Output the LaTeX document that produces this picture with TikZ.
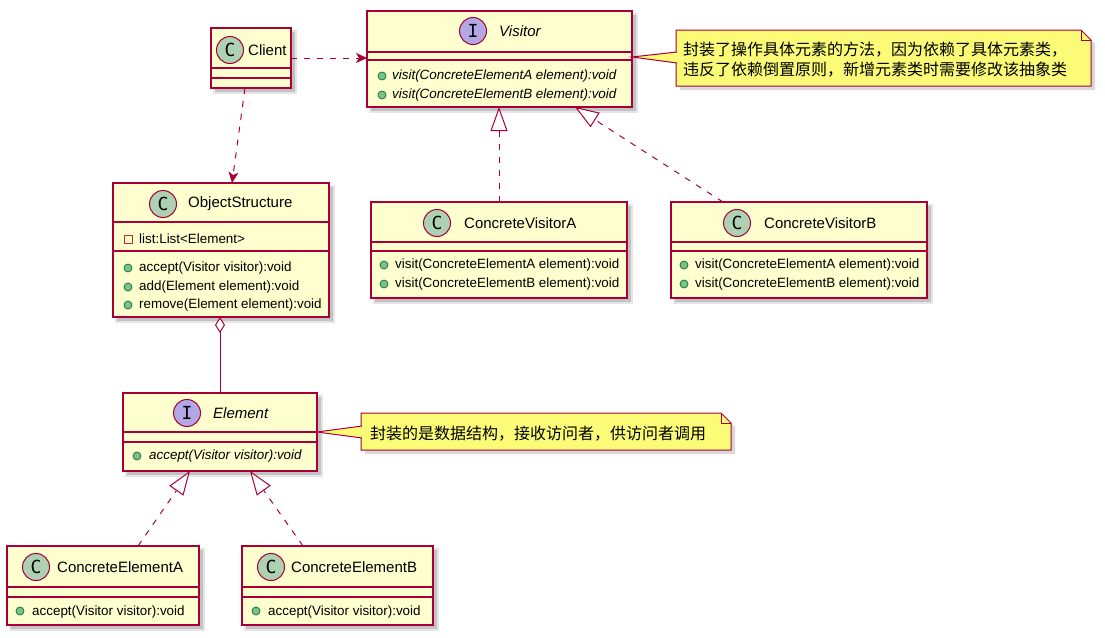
\documentclass[tikz,border=0pt]{standalone}
\usepackage{fontspec}
\setmainfont{Liberation Sans}
\newfontfamily\cjk{Noto Sans CJK SC}
\newfontfamily\glyphfont{DejaVu Sans Mono}
\usetikzlibrary{arrows.meta}
\definecolor{umlred}{HTML}{A80036}
\definecolor{umlbg}{HTML}{FEFECE}
\definecolor{notebg}{HTML}{FBFB77}
\definecolor{circC}{HTML}{ADD1B2}
\definecolor{circI}{HTML}{B4A7E5}
\definecolor{dotfill}{HTML}{84BE84}
\definecolor{dotdraw}{HTML}{038048}
\definecolor{privdraw}{HTML}{C82930}
\newcommand{\umlbox}[7]{%
  \fill[black,opacity=0.10] (#2+2,#3+2) rectangle ++(#4+4,#5+4);
  \fill[black,opacity=0.15] (#2+4,#3+4) rectangle ++(#4,#5);
  \node[cls, minimum width=#4pt, minimum height=#5pt, anchor=north west] (#1) at (#2,#3) {};
  \draw[clsline] (#2,#6) -- ++(#4,0);
  \draw[clsline] (#2,#7) -- ++(#4,0);
}
\begin{document}
\begin{tikzpicture}[x=1pt,y=-1pt,
  cls/.style={draw=umlred, fill=umlbg, line width=1.4pt, inner sep=0pt, outer sep=0pt, rectangle},
  clsline/.style={draw=umlred, line width=1.4pt},
  glyph/.style={circle, draw=umlred, line width=1pt, minimum size=27pt, inner sep=0pt, font=\glyphfont\fontsize{18}{18}\selectfont},
  cname/.style={anchor=west, inner sep=0pt, font=\fontsize{15}{18}\selectfont},
  mtext/.style={anchor=west, inner sep=0pt, font=\fontsize{13.4}{16}\selectfont},
  pub/.style={circle, draw=dotdraw, fill=dotfill, line width=0.8pt, minimum size=8pt, inner sep=0pt},
  priv/.style={rectangle, draw=privdraw, line width=1pt, minimum size=8pt, inner sep=0pt},
  conn/.style={draw=umlred, line width=1pt},
  dep/.style={conn, dash pattern=on 6pt off 7pt, -{Stealth[length=11pt,width=10pt,inset=3pt]}},
  impl/.style={conn, dash pattern=on 6pt off 7pt, -{Triangle[open,fill=white,length=24pt,width=17pt]}},
  agg/.style={conn, {Diamond[open,fill=white,length=16pt,width=10pt]}-},
  notebox/.style={draw=umlred, fill=notebg, line width=1pt},
  notetext/.style={anchor=west, inner sep=0pt, align=left, font=\cjk\fontsize{16}{20}\selectfont}
]
\fill[white] (0,0) rectangle (1105,637);
\useasboundingbox (0,0) rectangle (1105,637);

% ---- class boxes ----
\umlbox{client}{211}{28}{80}{60}{68}{78}
\umlbox{visitor}{367}{11}{265}{96}{52}{60}
\umlbox{objs}{113}{183}{216}{134}{222}{251}
\umlbox{cva}{371}{202}{256}{96}{242}{251}
\umlbox{cvb}{671}{202}{256}{96}{242}{251}
\umlbox{element}{123}{393}{194}{78}{432}{442}
\umlbox{cea}{7}{546}{192}{79}{587}{597}
\umlbox{ceb}{242}{546}{191}{79}{587}{597}

% ---- Client ----
\node[glyph, fill=circC] (client-g) at (230,50) {C};
\node[cname] (client-n) at (248,50) {Client};

% ---- Visitor ----
\node[glyph, fill=circI] (visitor-g) at (473,31) {I};
\node[cname, font=\fontsize{15}{18}\selectfont\itshape] (visitor-n) at (499,31) {Visitor};
\node[pub] (visitor-d1) at (382,76) {};
\node[pub] (visitor-d2) at (382,95) {};
\node[mtext, font=\fontsize{13.4}{16}\selectfont\itshape] (visitor-m1) at (392,76) {visit(ConcreteElementA element):void};
\node[mtext, font=\fontsize{13.4}{16}\selectfont\itshape] (visitor-m2) at (392,95) {visit(ConcreteElementB element):void};

% ---- ObjectStructure ----
\node[glyph, fill=circC] (objs-g) at (163,204) {C};
\node[cname] (objs-n) at (188,204) {ObjectStructure};
\node[priv] (objs-p) at (128,239) {};
\node[mtext] (objs-f) at (139,239) {list:List<Element>};
\node[pub] (objs-d1) at (128,268) {};
\node[pub] (objs-d2) at (128,287) {};
\node[pub] (objs-d3) at (128,305) {};
\node[mtext] (objs-m1) at (139,268) {accept(Visitor visitor):void};
\node[mtext] (objs-m2) at (139,287) {add(Element element):void};
\node[mtext] (objs-m3) at (139,305) {remove(Element element):void};

% ---- ConcreteVisitorA ----
\node[glyph, fill=circC] (cva-g) at (437,223) {C};
\node[cname] (cva-n) at (464,223) {ConcreteVisitorA};
\node[pub] (cva-d1) at (384,265) {};
\node[pub] (cva-d2) at (384,284) {};
\node[mtext] (cva-m1) at (395,265) {visit(ConcreteElementA element):void};
\node[mtext] (cva-m2) at (395,284) {visit(ConcreteElementB element):void};

% ---- ConcreteVisitorB ----
\node[glyph, fill=circC] (cvb-g) at (737,223) {C};
\node[cname] (cvb-n) at (764,223) {ConcreteVisitorB};
\node[pub] (cvb-d1) at (684,265) {};
\node[pub] (cvb-d2) at (684,284) {};
\node[mtext] (cvb-m1) at (695,265) {visit(ConcreteElementA element):void};
\node[mtext] (cvb-m2) at (695,284) {visit(ConcreteElementB element):void};

% ---- Element ----
\node[glyph, fill=circI] (element-g) at (187,413) {I};
\node[cname, font=\fontsize{15}{18}\selectfont\itshape] (element-n) at (213,413) {Element};
\node[pub] (element-d1) at (137,456) {};
\node[mtext, font=\fontsize{13.4}{16}\selectfont\itshape] (element-m1) at (149,456) {accept(Visitor visitor):void};

% ---- ConcreteElementA ----
\node[glyph, fill=circC] (cea-g) at (36,567) {C};
\node[cname] (cea-n) at (57,567) {ConcreteElementA};
\node[pub] (cea-d1) at (20,611) {};
\node[mtext] (cea-m1) at (32,612) {accept(Visitor visitor):void};

% ---- ConcreteElementB ----
\node[glyph, fill=circC] (ceb-g) at (271,567) {C};
\node[cname] (ceb-n) at (291,567) {ConcreteElementB};
\node[pub] (ceb-d1) at (256,611) {};
\node[mtext] (ceb-m1) at (268,612) {accept(Visitor visitor):void};

% ---- notes ----
\fill[black,opacity=0.15] (680,34) -- (1085,34) -- (1095,44) -- (1095,90) -- (680,90) -- cycle;
\draw[notebox] (676,30) -- (1081,30) -- (1091,40) -- (1091,86) -- (676,86) -- cycle;
\draw[umlred, line width=1pt] (1081,30) -- (1081,40) -- (1091,40);
\node[notetext] (note1) at (683,60) {封装了操作具体元素的方法，因为依赖了具体元素类，\\违反了依赖倒置原则，新增元素类时需要修改该抽象类};
\fill[notebg] ([yshift=2pt]visitor.east) -- (677,52) -- (677,63) -- cycle;
\draw[umlred, line width=1pt] (677,52) -- ([yshift=2pt]visitor.east) -- (677,63);

\fill[black,opacity=0.15] (365,417) -- (725,417) -- (735,427) -- (735,454) -- (365,454) -- cycle;
\draw[notebox] (361,413) -- (721,413) -- (731,423) -- (731,450) -- (361,450) -- cycle;
\draw[umlred, line width=1pt] (721,413) -- (721,423) -- (731,423);
\node[notetext] (note2) at (370,434) {封装的是数据结构，接收访问者，供访问者调用};
\fill[notebg] (element.east) -- (362,426) -- (362,438) -- cycle;
\draw[umlred, line width=1pt] (362,426) -- (element.east) -- (362,438);

% ---- connectors ----
\draw[dep] (client.east) -- (client.east -| visitor.west);
\draw[dep] ([xshift=-6pt]client.south) -- ([xshift=11pt]objs.north);
\draw[agg] (objs.south -| element.north) -- (element.north);
\draw[impl] (cva.north) -- (cva.north |- visitor.south);
\draw[impl] ([xshift=-76pt]cvb.north) -- ([xshift=75.5pt]visitor.south);
\draw[impl] ([xshift=35pt]cea.north) -- ([xshift=-30pt]element.south);
\draw[impl] ([xshift=-34.5pt]ceb.north) -- ([xshift=30pt]element.south);
\end{tikzpicture}
\end{document}
